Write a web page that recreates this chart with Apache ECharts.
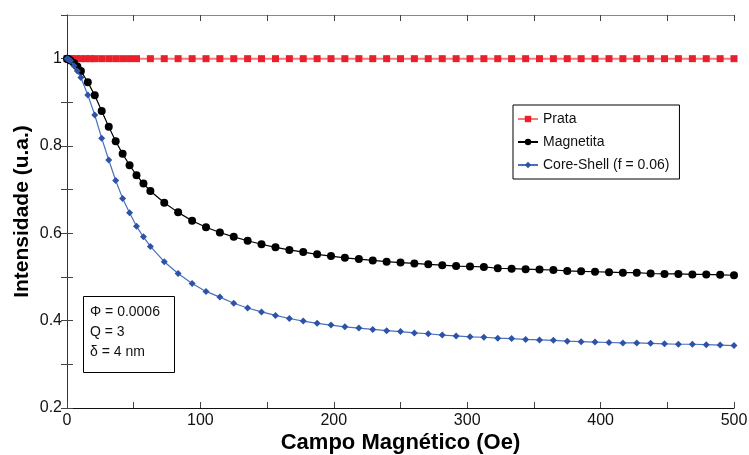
<!DOCTYPE html>
<html>
<head>
<meta charset="utf-8">
<script src="https://cdn.jsdelivr.net/npm/echarts@6/dist/echarts.min.js"></script>
<style>
  html, body { margin: 0; padding: 0; background: #fff; }
  #chart { width: 749px; height: 455px; }
</style>
</head>
<body>
<div id="chart"></div>
<script>
// Magnetic field (Oe) sampling for the reference sample (Prata)
const fieldPrata = [0, 0.5, 1, 1.7, 3.5, 6.9, 10.4, 13.9, 17.4, 20.8, 26.0, 31.3, 36.5, 41.7, 46.9, 52.1,
  62.5, 72.9, 83.3, 93.8, 104.2, 114.6, 125.0, 135.4, 145.8, 156.3, 166.7, 177.1, 187.5, 197.9,
  208.3, 218.8, 229.2, 239.6, 250.0, 260.4, 270.8, 281.3, 291.7, 302.1, 312.5, 322.9, 333.3, 343.8,
  354.2, 364.6, 375.0, 385.4, 395.8, 406.3, 416.7, 427.1, 437.5, 447.9, 458.3, 468.8, 479.2, 489.6, 500.0];
const prata = [1, 1, 1, 1, 1, 1, 1, 1, 1, 1, 1, 1, 1, 1, 1, 1,
  1, 1, 1, 1, 1, 1, 1, 1, 1, 1, 1, 1, 1, 1,
  1, 1, 1, 1, 1, 1, 1, 1, 1, 1, 1, 1, 1, 1,
  1, 1, 1, 1, 1, 1, 1, 1, 1, 1, 1, 1, 1, 1, 1];

// Magnetic field (Oe) sampling for the magnetic samples
const field = [0, 0.65, 1.3, 2.6, 5.2, 7.8, 10.4, 15.6, 20.8, 26.0, 31.3, 36.5, 41.7, 46.9, 52.1, 57.3,
  62.5, 72.9, 83.3, 93.8, 104.2, 114.6, 125.0, 135.4, 145.8, 156.3, 166.7, 177.1, 187.5, 197.9,
  208.3, 218.8, 229.2, 239.6, 250.0, 260.4, 270.8, 281.3, 291.7, 302.1, 312.5, 322.9, 333.3, 343.8,
  354.2, 364.6, 375.0, 385.4, 395.8, 406.3, 416.7, 427.1, 437.5, 447.9, 458.3, 468.8, 479.2, 489.6, 500.0];

const magnetita = [1.000, 0.9995, 0.998, 0.996, 0.990, 0.982, 0.972, 0.946, 0.916, 0.880, 0.844, 0.811, 0.782, 0.756, 0.733, 0.714,
  0.697, 0.670, 0.648, 0.629, 0.614, 0.602, 0.592, 0.583, 0.575, 0.568, 0.562, 0.557, 0.552, 0.548,
  0.544, 0.541, 0.538, 0.535, 0.533, 0.531, 0.529, 0.527, 0.525, 0.524, 0.523, 0.520, 0.519, 0.518,
  0.517, 0.516, 0.514, 0.513, 0.512, 0.511, 0.510, 0.510, 0.508, 0.507, 0.507, 0.506, 0.506, 0.505, 0.504];

const coreShell = [1.000, 0.999, 0.998, 0.995, 0.984, 0.972, 0.957, 0.917, 0.871, 0.818, 0.768, 0.721, 0.680, 0.647, 0.616, 0.592,
  0.570, 0.535, 0.508, 0.485, 0.467, 0.454, 0.440, 0.429, 0.420, 0.412, 0.405, 0.399, 0.394, 0.390,
  0.386, 0.383, 0.380, 0.377, 0.375, 0.372, 0.370, 0.367, 0.365, 0.363, 0.362, 0.360, 0.359, 0.357,
  0.356, 0.355, 0.353, 0.352, 0.351, 0.350, 0.349, 0.349, 0.348, 0.347, 0.346, 0.346, 0.345, 0.344, 0.343];

const seriesNames = ['Prata', 'Magnetita', 'Core-Shell (f = 0.06)'];
const xTitle = 'Campo Magnético (Oe)';
const yTitle = 'Intensidade (u.a.)';
const noteLines = ['Φ = 0.0006', 'Q = 3', 'δ = 4 nm'];

const pair = (xs, ys) => xs.map((x, i) => [x, ys[i]]);

const FONT = '"Liberation Sans", Arial, Helvetica, sans-serif';
const axisColor = '#444';

const chart = echarts.init(document.getElementById('chart'), null, { renderer: 'canvas' });

const tickInside = { show: true, inside: true, length: 6, lineStyle: { color: axisColor, width: 1 } };

chart.setOption({
  animation: false,
  backgroundColor: '#fff',
  grid: { left: 67, right: 15, top: 15, bottom: 47, outerBoundsMode: 'none', containLabel: false },
  legend: {
    orient: 'vertical',
    left: 513,
    top: 105,
    itemWidth: 20,
    itemHeight: 8,
    itemGap: 9,
    padding: [7, 10, 7, 4],
    borderColor: '#000',
    borderWidth: 1,
    backgroundColor: '#fff',
    textStyle: { fontFamily: FONT, fontSize: 14, color: '#111' },
    data: seriesNames
  },
  xAxis: [
    {
      type: 'value', min: 0, max: 500, interval: 100,
      name: xTitle, nameLocation: 'middle', nameGap: 24, nameMoveOverlap: false,
      nameTextStyle: { fontFamily: FONT, fontSize: 22, fontWeight: 'bold', color: '#000' },
      axisLine: { show: true, lineStyle: { color: '#111', width: 1.2 } },
      axisTick: tickInside,
      minorTick: { show: true, splitNumber: 2, length: 6, lineStyle: { color: axisColor } },
      splitLine: { show: false },
      axisLabel: { fontFamily: FONT, fontSize: 16, color: '#111', margin: 5 }
    },
    {
      type: 'value', min: 0, max: 500, interval: 100, position: 'top',
      axisLine: { show: true, lineStyle: { color: '#888', width: 1 } },
      axisTick: tickInside,
      minorTick: { show: true, splitNumber: 2, length: 6, lineStyle: { color: axisColor } },
      splitLine: { show: false },
      axisLabel: { show: false }
    }
  ],
  yAxis: [
    {
      type: 'value', min: 0.2, max: 1.1, interval: 0.1,
      name: yTitle, nameLocation: 'middle', nameGap: 34, nameRotate: 90, nameMoveOverlap: false,
      nameTextStyle: { fontFamily: FONT, fontSize: 21, fontWeight: 'bold', color: '#000' },
      axisLine: { show: true, lineStyle: { color: '#888', width: 1 } },
      axisTick: tickInside,
      splitLine: { show: false },
      axisLabel: {
        fontFamily: FONT, fontSize: 16, color: '#111', margin: 5,
        showMaxLabel: false,
        formatter: v => {
          const k = Math.round(v * 10);
          if (k % 2 !== 0 || k > 10) return '';
          return k === 10 ? '1' : (k / 10).toFixed(1);
        }
      }
    },
    {
      type: 'value', min: 0.2, max: 1.1, interval: 0.1, position: 'right',
      axisLine: { show: true, lineStyle: { color: '#333', width: 1 } },
      axisTick: tickInside,
      splitLine: { show: false },
      axisLabel: { show: false }
    }
  ],
  series: [
    {
      name: seriesNames[0], type: 'line', data: pair(fieldPrata, prata),
      symbol: 'rect', symbolSize: 7, showAllSymbol: true, smooth: false,
      lineStyle: { color: '#f07a7e', width: 2 },
      itemStyle: { color: '#ea1f2a' }, z: 3
    },
    {
      name: seriesNames[1], type: 'line', data: pair(field, magnetita),
      symbol: 'circle', symbolSize: 8, showAllSymbol: true,
      lineStyle: { color: '#000', width: 1.2 },
      itemStyle: { color: '#000' }, z: 4
    },
    {
      name: seriesNames[2], type: 'line', data: pair(field, coreShell),
      symbol: 'diamond', symbolSize: 7, showAllSymbol: true,
      lineStyle: { color: '#4a6fc0', width: 1.2 },
      itemStyle: { color: '#2c53a8' }, z: 5
    }
  ],
  graphic: [
    {
      type: 'rect', left: 83, top: 296,
      shape: { width: 91, height: 76 },
      style: { fill: '#fff', stroke: '#000', lineWidth: 1 }, z: 10
    },
    {
      type: 'text', left: 90, top: 302,
      style: {
        text: noteLines.join('\n'), fontFamily: FONT, fontSize: 14, lineHeight: 20, fill: '#111'
      }, z: 11
    }
  ]
});
</script>
</body>
</html>
